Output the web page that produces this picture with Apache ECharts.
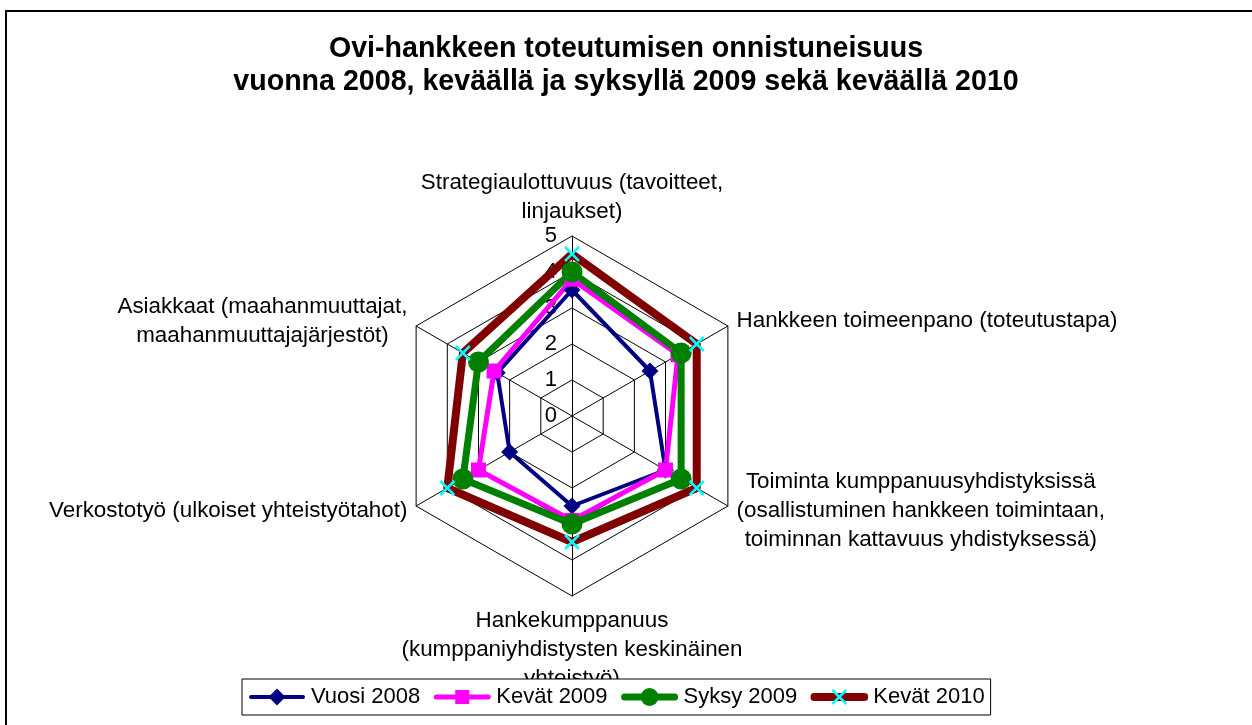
<!DOCTYPE html>
<html>
<head>
<meta charset="utf-8">
<script src="https://cdn.jsdelivr.net/npm/echarts@6/dist/echarts.min.js"></script>
<style>
  html, body { margin: 0; padding: 0; background: #fff; }
  #frame { position: absolute; left: 5px; top: 10px; width: 1400px; height: 900px;
           border-left: 2px solid #000; border-top: 2px solid #000; }
  #chart { position: absolute; left: 0; top: 0; width: 1252px; height: 725px; }
</style>
</head>
<body>
<div id="frame"></div>
<div id="chart"></div>
<script>
// indicators, counterclockwise from the top (ECharts order)
const indicatorNames = [
  'Strategiaulottuvuus (tavoitteet,\nlinjaukset)',
  'Asiakkaat (maahanmuuttajat,\nmaahanmuuttajajärjestöt)',
  'Verkostotyö (ulkoiset yhteistyötahot)',
  'Hankekumppanuus\n(kumppaniyhdistysten keskinäinen\nyhteistyö)',
  'Toiminta kumppanuusyhdistyksissä\n(osallistuminen hankkeen toimintaan,\ntoiminnan kattavuus yhdistyksessä)',
  'Hankkeen toimeenpano (toteutustapa)'
];
const seriesNames = ['Vuosi 2008', 'Kevät 2009', 'Syksy 2009', 'Kevät 2010'];
const vuosi2008 = [3.5, 2.4, 2.0, 2.5, 3.0, 2.5];
const kevat2009 = [3.8, 2.5, 3.0, 2.9, 3.0, 3.4];
const syksy2009 = [4.0, 3.0, 3.5, 3.0, 3.5, 3.5];
const kevat2010 = [4.5, 3.5, 4.0, 3.5, 4.0, 4.0];
const axisMax = 5;

const FONT = '"Liberation Sans", Arial, sans-serif';

function svgIcon(body) {
  const svg = "<svg xmlns='http://www.w3.org/2000/svg' width='58' height='20'>" + body + "</svg>";
  return 'image://data:image/svg+xml;charset=utf-8,' + encodeURIComponent(svg);
}
const legendIcons = [
  svgIcon("<line x1='3' y1='10' x2='55' y2='10' stroke='#000080' stroke-width='4' stroke-linecap='round'/><path d='M29 1.5L37.5 10L29 18.5L20.5 10Z' fill='#000080'/>"),
  svgIcon("<line x1='3' y1='10' x2='55' y2='10' stroke='#FF00FF' stroke-width='5' stroke-linecap='round'/><rect x='22' y='3' width='14' height='14' fill='#FF00FF'/>"),
  svgIcon("<line x1='4' y1='10' x2='54' y2='10' stroke='#008000' stroke-width='7' stroke-linecap='round'/><circle cx='29' cy='10' r='9' fill='#008000'/>"),
  svgIcon("<line x1='4' y1='10' x2='54' y2='10' stroke='#800000' stroke-width='8' stroke-linecap='round'/><path d='M22 3L36 17M36 3L22 17' stroke='#00FFFF' stroke-width='2.5'/>")
];

const chart = echarts.init(document.getElementById('chart'), null, { renderer: 'canvas' });

const indicator = indicatorNames.map(function (n, i) {
  const ind = { name: n, min: 0, max: axisMax };
  if (i === 0) {
    ind.axisLabel = { show: true, color: '#000', fontSize: 22, fontFamily: FONT, margin: 15 };
  }
  return ind;
});

chart.setOption({
  animation: false,
  title: {
    text: 'Ovi-hankkeen toteutumisen onnistuneisuus\nvuonna 2008, keväällä ja syksyllä 2009 sekä keväällä 2010',
    left: 'center',
    top: 28,
    textStyle: { fontSize: 28.6, fontWeight: 'bold', color: '#000', fontFamily: FONT, lineHeight: 33 }
  },
  legend: {
    left: 242,
    top: 679,
    padding: [7, 6],
    itemWidth: 58,
    itemHeight: 20,
    itemGap: 13,
    backgroundColor: '#fff',
    borderColor: '#000',
    borderWidth: 1,
    selectedMode: false,
    textStyle: { fontSize: 22, color: '#000', fontFamily: FONT },
    data: seriesNames.map(function (n, i) { return { name: n, icon: legendIcons[i] }; })
  },
  radar: {
    center: [572, 416],
    radius: 180,
    startAngle: 90,
    splitNumber: 5,
    shape: 'polygon',
    nameGap: 10,
    axisName: {
      color: '#000',
      fontSize: 22.4,
      fontFamily: FONT,
      formatter: function (v) {
        return v.split('\n').map(function (l) { return '{c|' + l + '}'; }).join('\n');
      },
      rich: { c: { align: 'center', fontSize: 22.4, lineHeight: 29, color: '#000', fontFamily: FONT } }
    },
    axisLine: { lineStyle: { color: '#000', width: 1 } },
    splitLine: { lineStyle: { color: '#000', width: 1 } },
    splitArea: { show: false },
    axisTick: { show: false },
    axisLabel: { show: false },
    indicator: indicator
  },
  series: [
    {
      name: seriesNames[0], type: 'radar', symbol: 'diamond', symbolSize: 17,
      lineStyle: { color: '#000080', width: 4 }, itemStyle: { color: '#000080' },
      data: [{ value: vuosi2008, name: seriesNames[0] }]
    },
    {
      name: seriesNames[1], type: 'radar', symbol: 'rect', symbolSize: 15,
      lineStyle: { color: '#FF00FF', width: 5 }, itemStyle: { color: '#FF00FF' },
      data: [{ value: kevat2009, name: seriesNames[1] }]
    },
    {
      name: seriesNames[2], type: 'radar', symbol: 'circle', symbolSize: 21,
      lineStyle: { color: '#008000', width: 7 }, itemStyle: { color: '#008000' },
      data: [{ value: syksy2009, name: seriesNames[2] }]
    },
    {
      name: seriesNames[3], type: 'radar', symbol: 'path://M0 0L10 10M10 0L0 10', symbolSize: 14,
      lineStyle: { color: '#800000', width: 8 },
      itemStyle: { color: 'rgba(0,0,0,0)', borderColor: '#00FFFF', borderWidth: 2.5 },
      data: [{ value: kevat2010, name: seriesNames[3] }]
    }
  ]
});
</script>
</body>
</html>
